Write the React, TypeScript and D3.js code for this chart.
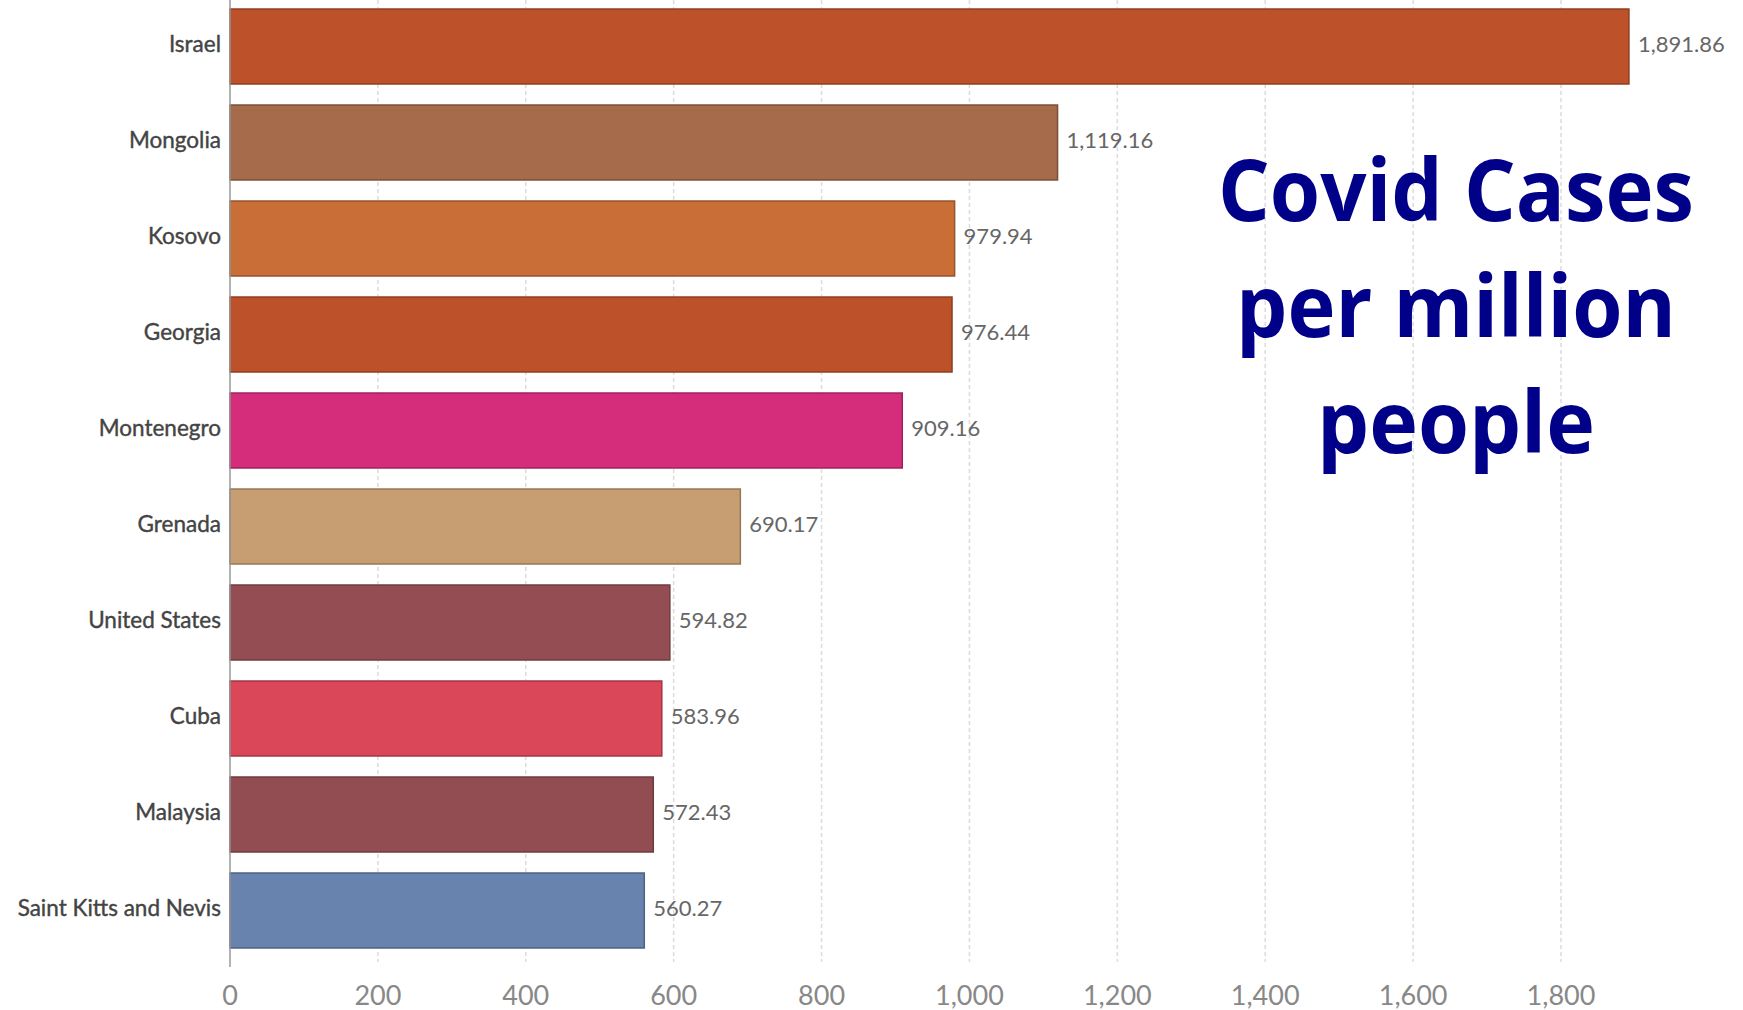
import React, { useEffect } from "react";
import * as d3 from "d3";

const countries = ["Israel", "Mongolia", "Kosovo", "Georgia", "Montenegro", "Grenada", "United States", "Cuba", "Malaysia", "Saint Kitts and Nevis"];
const values = [1891.86, 1119.16, 979.94, 976.44, 909.16, 690.17, 594.82, 583.96, 572.43, 560.27];
const barColors = ["#BD522A", "#A56B4A", "#C96E37", "#BD522A", "#D52D7C", "#C69E71", "#944E53", "#DA4758", "#924D53", "#6883AE"];
const xTicks = [0, 200, 400, 600, 800, 1000, 1200, 1400, 1600, 1800];
const titleLines = ["Covid Cases", "per million", "people"];

const W = 1743;
const H = 1010;
const x0 = 230;

export default function App() {
  useEffect(() => {
    document.body.style.margin = "0";
  }, []);

  const x = d3.scaleLinear().domain([0, 1800]).range([x0, x0 + 1331]);
  const y = d3.scaleBand<string>().domain(countries).range([-1.5, 958.5]).paddingInner(0.219).paddingOuter(0.1095);
  const fmt = d3.format(",.2f");
  const tfmt = d3.format(",");
  const bw = y.bandwidth();

  return (
    <svg width={W} height={H} style={{ position: "absolute", left: 0, top: 0, background: "#fff" }}>
      <rect x={0} y={0} width={W} height={H} fill="#fff" />
      {xTicks.filter((t) => t > 0).map((t) => (
        <line key={"g" + t} x1={x(t)} x2={x(t)} y1={0} y2={962} stroke="#dcdcdc" strokeWidth={1.5} strokeDasharray="4,3" />
      ))}
      {countries.map((c, i) => (
        <g key={c}>
          <rect x={x(0)} y={y(c)} width={x(values[i]) - x(0)} height={bw} fill={barColors[i]} stroke={d3.color(barColors[i])!.darker(0.8).toString()} strokeWidth={1.5} />
          <text x={x0 - 9} y={(y(c) as number) + bw / 2 - 2} dy="0.35em" textAnchor="end" fontFamily="Lato, sans-serif" fontSize={22.5} fill="#444" stroke="#444" strokeWidth={0.4}>{c}</text>
          <text x={x(values[i]) + 9} y={(y(c) as number) + bw / 2 - 2} dy="0.35em" textAnchor="start" fontFamily="Lato, sans-serif" fontSize={22} fill="#666">{fmt(values[i])}</text>
        </g>
      ))}
      <line x1={x0} x2={x0} y1={0} y2={967} stroke="#999" strokeWidth={1.5} />
      {xTicks.map((t) => (
        <text key={"t" + t} x={x(t)} y={1005} textAnchor="middle" fontFamily="Lato, sans-serif" fontSize={27} fill="#888">{tfmt(t)}</text>
      ))}
      {titleLines.map((l, i) => (
        <text key={l} x={1456} y={221 + i * 116} textAnchor="middle" fontFamily="'Open Sans', sans-serif" fontWeight="bold" fontSize={86} fill="#000088"
          textLength={[476, 440, 278][i]} lengthAdjust="spacingAndGlyphs">{l}</text>
      ))}
    </svg>
  );
}
